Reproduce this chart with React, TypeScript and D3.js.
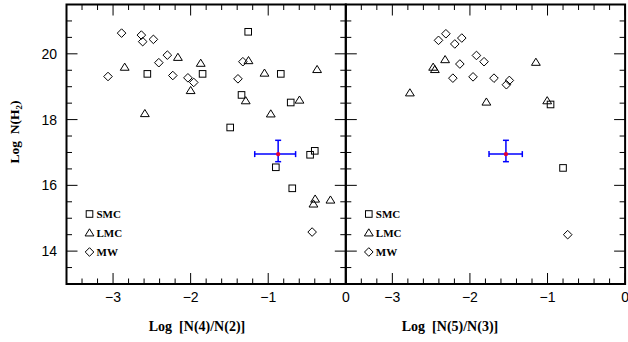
import React from "react";
import * as d3 from "d3";

const W = 628;
const H = 342;

// Panel 1: Log [N(4)/N(2)]
const p1SmcX = [-1.258, -2.558, -1.846, -1.344, -0.838, -0.71, -1.49, -0.40, -0.46, -0.902, -0.69];
const p1SmcY = [20.67, 19.39, 19.39, 18.75, 19.39, 18.52, 17.76, 17.05, 16.93, 16.55, 15.91];
const p1LmcX = [-2.85, -2.59, -2.164, -1.87, -2.0, -1.254, -1.29, -1.048, -0.967, -0.597, -0.37, -0.395, -0.417, -0.198];
const p1LmcY = [19.59, 18.18, 19.89, 19.71, 18.88, 19.79, 18.57, 19.41, 18.17, 18.59, 19.52, 15.58, 15.43, 15.55];
const p1MwX = [-2.89, -3.065, -2.635, -2.618, -2.48, -2.30, -2.41, -2.23, -2.035, -1.96, -1.39, -1.327, -0.434];
const p1MwY = [20.63, 19.31, 20.57, 20.37, 20.44, 19.96, 19.73, 19.34, 19.27, 19.13, 19.24, 19.76, 14.58];
// error bar: [x, xlo, xhi, y, ylo, yhi]
const p1Err = [-0.872, -1.174, -0.647, 16.95, 16.72, 17.37];

// Panel 2: Log [N(5)/N(3)]
const p2SmcX = [-0.961, -0.80];
const p2SmcY = [18.46, 16.53];
const p2LmcX = [-2.774, -2.474, -2.452, -2.32, -1.788, -1.15, -1.004];
const p2LmcY = [18.81, 19.59, 19.52, 19.82, 18.53, 19.74, 18.57];
const p2MwX = [-2.31, -2.405, -2.195, -2.105, -1.916, -1.818, -2.13, -2.22, -1.96, -1.69, -1.492, -1.53, -0.74];
const p2MwY = [20.61, 20.41, 20.30, 20.48, 19.95, 19.76, 19.69, 19.26, 19.30, 19.26, 19.19, 19.06, 14.50];
const p2Err = [-1.536, -1.754, -1.325, 16.95, 16.72, 17.37];

const xDomain = [-3.6, 0];
const yDomain = [13, 21.5];
const xMajor = [-3, -2, -1, 0];
const yMajor = [14, 16, 18, 20];
const legendLabels = ["SMC", "LMC", "MW"];
const xTitles = ["Log  [N(4)/N(2)]", "Log  [N(5)/N(3)]"];
const yTitle = "Log  N(H";

const TOP = 4.5;
const BOTTOM = 284;
const LEFT = 66.5;
const PW = 279.3;

const yScale = d3.scaleLinear().domain(yDomain).range([BOTTOM, TOP]);

function Marker({ type, x, y }: { type: string; x: number; y: number }) {
  const s = 3.3;
  if (type === "SMC") {
    return <rect x={x - s} y={y - s} width={2 * s} height={2 * s} fill="none" stroke="#000" strokeWidth={1} />;
  }
  if (type === "LMC") {
    const h = 4.2;
    return (
      <path
        d={`M${x},${y - h}L${x + h * 1.05},${y + h * 0.7}L${x - h * 1.05},${y + h * 0.7}Z`}
        fill="none"
        stroke="#000"
        strokeWidth={1}
      />
    );
  }
  const r = 4.3;
  return (
    <path d={`M${x},${y - r}L${x + r},${y}L${x},${y + r}L${x - r},${y}Z`} fill="none" stroke="#000" strokeWidth={1} />
  );
}

function Panel({
  idx,
  smcX, smcY, lmcX, lmcY, mwX, mwY, err, title, titleX,
}: any) {
  const x0 = LEFT + idx * PW;
  const xScale = d3.scaleLinear().domain(xDomain).range([x0, x0 + PW]);
  const xMinor = d3.range(-3.6, 0.001, 0.2).map((v) => Math.round(v * 10) / 10);
  const yMinor = d3.range(13, 21.51, 0.5);
  const majL = 11;
  const minL = 5.5;
  const isMajX = (v: number) => Math.abs(v - Math.round(v)) < 1e-6;
  const isMajY = (v: number) => Math.abs(v / 2 - Math.round(v / 2)) < 1e-6;
  const [ex, exlo, exhi, ey, eylo, eyhi] = err;
  const cap = 3;
  return (
    <g>
      {xMinor.map((v, i) => {
        const L = isMajX(v) ? majL : minL;
        const px = xScale(v);
        return (
          <g key={"xt" + i}>
            <line x1={px} x2={px} y1={BOTTOM} y2={BOTTOM - L} stroke="#000" strokeWidth={1} />
            <line x1={px} x2={px} y1={TOP} y2={TOP + L} stroke="#000" strokeWidth={1} />
          </g>
        );
      })}
      {yMinor.map((v, i) => {
        const L = isMajY(v) ? majL : minL;
        const py = yScale(v);
        return (
          <g key={"yt" + i}>
            <line x1={x0} x2={x0 + L} y1={py} y2={py} stroke="#000" strokeWidth={1} />
            <line x1={x0 + PW} x2={x0 + PW - L} y1={py} y2={py} stroke="#000" strokeWidth={1} />
          </g>
        );
      })}
      <rect x={x0} y={TOP} width={PW} height={BOTTOM - TOP} fill="none" stroke="#000" strokeWidth={2} />
      {xMajor.map((v) => (
        <text
          key={"xl" + v}
          x={xScale(v)}
          y={302}
          textAnchor="middle"
          fontFamily="'Liberation Sans', Arial, sans-serif"
          fontSize={14}
        >
          {v < 0 ? "\u2212" + Math.abs(v) : String(v)}
        </text>
      ))}
      {idx === 0 &&
        yMajor.map((v) => (
          <text
            key={"yl" + v}
            x={57}
            y={yScale(v) + 5}
            textAnchor="end"
            fontFamily="'Liberation Sans', Arial, sans-serif"
            fontSize={14}
          >
            {v}
          </text>
        ))}
      <text
        x={titleX}
        y={331}
        textAnchor="middle"
        fontFamily="'Liberation Serif', 'Times New Roman', serif"
        fontWeight="bold"
        fontSize={14}
        style={{ whiteSpace: "pre" }}
      >
        {title}
      </text>
      {smcX.map((v: number, i: number) => (
        <Marker key={"s" + i} type="SMC" x={xScale(v)} y={yScale(smcY[i])} />
      ))}
      {lmcX.map((v: number, i: number) => (
        <Marker key={"l" + i} type="LMC" x={xScale(v)} y={yScale(lmcY[i])} />
      ))}
      {mwX.map((v: number, i: number) => (
        <Marker key={"m" + i} type="MW" x={xScale(v)} y={yScale(mwY[i])} />
      ))}
      <g stroke="#0000ff" strokeWidth={1.5}>
        <line x1={xScale(exlo)} x2={xScale(exhi)} y1={yScale(ey)} y2={yScale(ey)} />
        <line x1={xScale(ex)} x2={xScale(ex)} y1={yScale(eylo)} y2={yScale(eyhi)} />
        <line x1={xScale(exlo)} x2={xScale(exlo)} y1={yScale(ey) - cap} y2={yScale(ey) + cap} />
        <line x1={xScale(exhi)} x2={xScale(exhi)} y1={yScale(ey) - cap} y2={yScale(ey) + cap} />
        <line x1={xScale(ex) - cap} x2={xScale(ex) + cap} y1={yScale(eylo)} y2={yScale(eylo)} />
        <line x1={xScale(ex) - cap} x2={xScale(ex) + cap} y1={yScale(eyhi)} y2={yScale(eyhi)} />
      </g>
      <circle cx={xScale(ex)} cy={yScale(ey)} r={2.2} fill="#e0003a" />
      {legendLabels.map((lab, i) => {
        const ly = 214 + i * 19;
        const lx = x0 + 23;
        return (
          <g key={"lg" + lab}>
            <Marker type={lab} x={lx} y={ly} />
            <text
              x={lx + 7}
              y={ly + 4}
              fontFamily="'Liberation Serif', 'Times New Roman', serif"
              fontWeight="bold"
              fontSize={11}
            >
              {lab}
            </text>
          </g>
        );
      })}
    </g>
  );
}

export default function App() {
  return (
    <svg
      width={W}
      height={H}
      style={{ position: "absolute", left: 0, top: 0, background: "#fff" }}
    >
      <rect x={0} y={0} width={W} height={H} fill="#fff" />
      <Panel
        idx={0}
        smcX={p1SmcX}
        smcY={p1SmcY}
        lmcX={p1LmcX}
        lmcY={p1LmcY}
        mwX={p1MwX}
        mwY={p1MwY}
        err={p1Err}
        title={xTitles[0]}
        titleX={197}
      />
      <Panel
        idx={1}
        smcX={p2SmcX}
        smcY={p2SmcY}
        lmcX={p2LmcX}
        lmcY={p2LmcY}
        mwX={p2MwX}
        mwY={p2MwY}
        err={p2Err}
        title={xTitles[1]}
        titleX={450}
      />
      <text
        transform="translate(19,132) rotate(-90)"
        textAnchor="middle"
        fontFamily="'Liberation Serif', 'Times New Roman', serif"
        fontWeight="bold"
        fontSize={13.5}
        style={{ whiteSpace: "pre" }}
      >
        {yTitle}
        <tspan fontSize={9} dy={3}>2</tspan>
        <tspan dy={-3}>)</tspan>
      </text>
    </svg>
  );
}
